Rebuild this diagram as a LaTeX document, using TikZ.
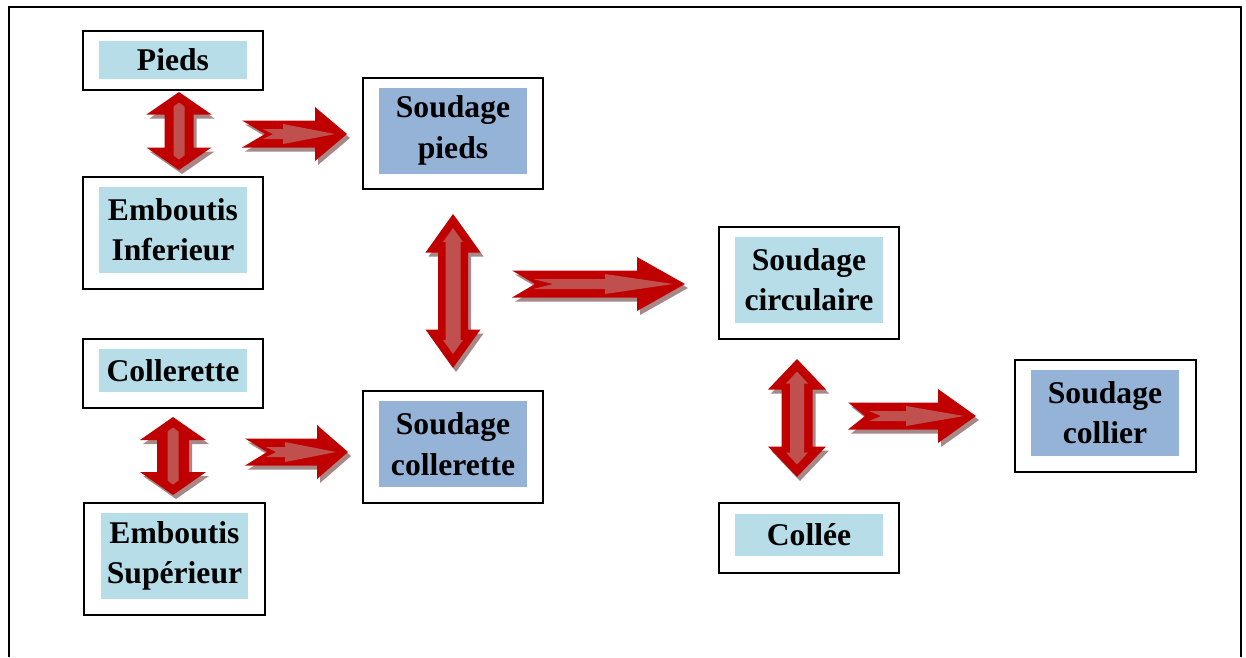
\documentclass[tikz,border=0pt]{standalone}
\usepackage{fontspec}
\setmainfont{Liberation Serif}

\definecolor{bleuclair}{HTML}{B7DDE8}
\definecolor{bleufonce}{HTML}{95B3D7}
\definecolor{rougefonce}{HTML}{C00000}
\definecolor{rougeclair}{HTML}{C0504D}
\definecolor{ombre}{RGB}{168,135,135}

\tikzset{cadre/.style={draw, line width=0.04cm, minimum width=3.62cm, inner sep=0pt},
         etiq/.style={fill=bleuclair, text width=2.96cm, align=center, inner sep=0pt,
                      yshift=0.06cm, font=\bfseries\fontsize{18}{23}\selectfont}}

% fleche double verticale : x, pointe haut, pointe bas, longueur tete, demi-tete, demi-corps
\newcommand{\flecheV}[6]{({#1},{#2}) -- ({#1+#5},{#2+#4}) -- ({#1+#6},{#2+#4}) -- ({#1+#6},{#3-#4})
  -- ({#1+#5},{#3-#4}) -- ({#1},{#3}) -- ({#1-#5},{#3-#4}) -- ({#1-#6},{#3-#4})
  -- ({#1-#6},{#2+#4}) -- ({#1-#5},{#2+#4}) -- cycle}
% fleche a encoche vers la droite : queue, pointe, y, longueur tete, demi-tete, demi-corps, encoche
\newcommand{\flecheH}[7]{({#1},{#3-#6}) -- ({#2-#4},{#3-#6}) -- ({#2-#4},{#3-#5}) -- ({#2},{#3})
  -- ({#2-#4},{#3+#5}) -- ({#2-#4},{#3+#6}) -- ({#1},{#3+#6}) -- ({#1+#7},{#3}) -- cycle}

\begin{document}
\begin{tikzpicture}[x=0.02cm, y=-0.02cm]
    \useasboundingbox (0,0) rectangle (1246,657);
    % cadre de la page
    \draw[line width=0.04cm] (9,657) -- (9,7) -- (1241,7) -- (1241,657);

    % Les blocs
    \node[cadre, minimum height=1.18cm] (cPieds) at (173,60.5) {};
    \node[etiq, minimum height=0.76cm, yshift=-0.05cm] (pieds) at (cPieds) {Pieds};
    \node[cadre, minimum height=2.24cm] (cEmbInf) at (173,233) {};
    \node[etiq, minimum height=1.72cm] (embInf) at (cEmbInf) {Emboutis\\Inferieur};
    \node[cadre, minimum height=1.38cm] (cCollerette) at (173,373.5) {};
    \node[etiq, minimum height=0.86cm] (collerette) at (cCollerette) {Collerette};
    \node[cadre, minimum height=2.24cm] (cEmbSup) at (174.5,559) {};
    \node[etiq, minimum height=1.72cm] (embSup) at (cEmbSup) {Emboutis\\Supérieur};

    \node[cadre, minimum height=2.24cm] (cSoudPieds) at (453,133.5) {};
    \node[etiq, fill=bleufonce, minimum height=1.72cm] (soudPieds) at (cSoudPieds) {Soudage\\pieds};
    \node[cadre, minimum height=2.24cm] (cSoudColl) at (453,447) {};
    \node[etiq, fill=bleufonce, minimum height=1.72cm] (soudColl) at (cSoudColl) {Soudage\\collerette};

    \node[cadre, minimum height=2.24cm] (cSoudCirc) at (809,283) {};
    \node[etiq, minimum height=1.72cm] (soudCirc) at (cSoudCirc) {Soudage\\circulaire};
    \node[cadre, minimum height=1.40cm] (cCollee) at (809,537.5) {};
    \node[etiq, minimum height=0.84cm] (collee) at (cCollee) {Collée};

    \node[cadre, minimum height=2.24cm] (cSoudCollier) at (1105,415.5) {};
    \node[etiq, fill=bleufonce, minimum height=1.72cm] (soudCollier) at (cSoudCollier) {Soudage\\collier};

    % Les fleches doubles
    \foreach \x/\ya/\yb/\h/\w/\s/\e/\wi/\si/\hi in {179/92/170/22.5/32.5/14.5/10.5/5.5/5.5/4,
        453/214/368/38.5/27.5/15/14/10/7.5/14, 797/359/477/30.5/29/15.5/12.5/11/7/12,
        173/417/495/23/33/16/10.5/5.5/5.5/4}{
        \fill[ombre, shift={(3,4)}] \flecheV{\x}{\ya}{\yb}{\h}{\w}{\s};
        \fill[rougefonce] \flecheV{\x}{\ya}{\yb}{\h}{\w}{\s};
        \fill[rougeclair] \flecheV{\x}{\ya+\e}{\yb-\e}{\hi}{\wi}{\si};
    }

    % Les fleches vers la droite
    \foreach \xa/\xb/\y/\L/\n/\m in {242/347/134/32/23/10, 512/685/284/48/23/20,
        848/976/416/38/17/12, 245/348/452/31/22/10}{
        \fill[ombre, shift={(3,4)}] \flecheH{\xa}{\xb}{\y}{\L}{27}{13.5}{\n};
        \fill[rougefonce] \flecheH{\xa}{\xb}{\y}{\L}{27}{13.5}{\n};
        \fill[rougeclair] \flecheH{\xa+21}{\xb-12}{\y}{\L-20}{10}{5}{\m};
    }
\end{tikzpicture}
\end{document}
